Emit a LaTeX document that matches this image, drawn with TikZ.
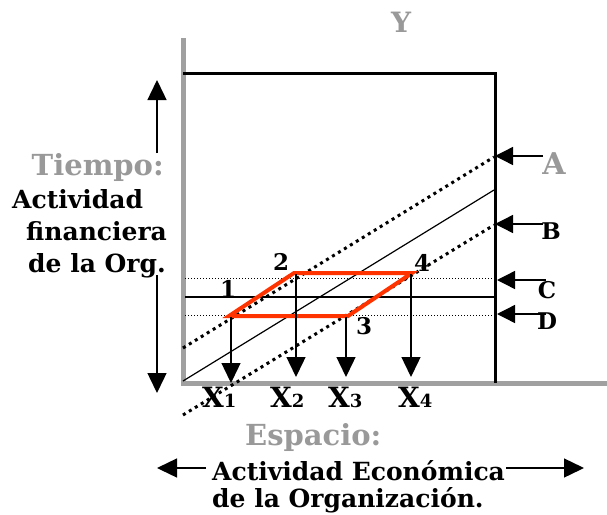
\documentclass[tikz,border=0pt]{standalone}
\usepackage{fontspec}
\setmainfont{DejaVu Serif}
\usetikzlibrary{arrows.meta}
\definecolor{axgray}{HTML}{A0A0A0}
\definecolor{txtgray}{HTML}{999999}
\definecolor{redline}{HTML}{FF3300}
\begin{document}
\begin{tikzpicture}[x=1pt,y=-1pt,
  axisline/.style={draw=axgray, line width=5pt},
  frameline/.style={draw=black, line width=3pt},
  thinline/.style={draw=black, line width=1.2pt},
  bigdots/.style={draw=black, line width=3pt, dash pattern=on 3pt off 4pt},
  finedots/.style={draw=black, line width=0.8pt, dash pattern=on 1pt off 2pt},
  redbox/.style={draw=redline, line width=4pt, line join=miter},
  arr/.style={draw=black, line width=1.4pt, -{Triangle[width=19pt,length=20pt]}},
  sidearr/.style={draw=black, line width=1.4pt, -{Triangle[width=18pt,length=18pt]}},
  blktext/.style={inner sep=0pt, font=\fontsize{25}{28}\selectfont\bfseries},
  graytext/.style={inner sep=0pt, text=txtgray, font=\fontsize{29}{32}\selectfont\bfseries},
  lettertext/.style={inner sep=0pt, font=\fontsize{23}{26}\selectfont\bfseries},
  numtext/.style={inner sep=0pt, font=\fontsize{23}{26}\selectfont\bfseries},
  xtext/.style={inner sep=0pt, font=\fontsize{28}{30}\selectfont\bfseries},
]
\useasboundingbox (0,0) rectangle (607,514);

% axes and frame
\coordinate (gtop) at (183,38);
\coordinate (gbot) at (183,385);
\coordinate (bl) at (181,383);
\coordinate (br) at (607,383);
\draw[axisline] (gtop) -- (gbot);
\draw[axisline] (bl) -- (br);
\coordinate (ftl) at (183,73);
\coordinate (ftr) at (495,73);
\coordinate (fbr) at (495,383);
\draw[frameline, line join=miter] (ftl) -- (ftr) -- (fbr);

% diagonal lines
\coordinate (As) at (183,348);
\coordinate (Ae) at (494,157);
\coordinate (Ms) at (183,381);
\coordinate (Me) at (494,190);
\coordinate (Bs) at (183,415);
\coordinate (Be) at (494,225);
\draw[bigdots] (As) -- (Ae);
\draw[thinline] (Ms) -- (Me);
\draw[bigdots] (Bs) -- (Be);

% horizontal lines
\coordinate (Cs) at (185,278);
\coordinate (Ce) at (494,278);
\coordinate (Hs) at (185,297);
\coordinate (He) at (494,297);
\coordinate (Ds) at (185,315);
\coordinate (De) at (494,315);
\draw[finedots] (Cs) -- (Ce);
\draw[thinline] (Hs) -- (He);
\draw[finedots] (Ds) -- (De);

% red parallelogram
\coordinate (P1) at (229,316);
\coordinate (P2) at (294,273);
\coordinate (P4) at (412,273);
\coordinate (P3) at (348,316);
\draw[redbox] (P1) -- (P2) -- (P4) -- (P3) -- cycle;

% down arrows
\coordinate (d1s) at (231,317);
\coordinate (d1e) at (231,383);
\coordinate (d2s) at (296,274);
\coordinate (d2e) at (296,377);
\coordinate (d3s) at (346,317);
\coordinate (d3e) at (346,377);
\coordinate (d4s) at (411,274);
\coordinate (d4e) at (411,377);
\draw[arr] (d1s) -- (d1e);
\draw[arr] (d2s) -- (d2e);
\draw[arr] (d3s) -- (d3e);
\draw[arr] (d4s) -- (d4e);

% point labels
\node[numtext] (n1) at (228,289) {1};
\node[numtext] (n2) at (281,262) {2};
\node[numtext] (n3) at (364,326) {3};
\node[numtext] (n4) at (422,263) {4};

% X labels
\node[xtext, anchor=base west] (x1) at (202,407) {X{\fontsize{18}{20}\selectfont 1}};
\node[xtext, anchor=base west] (x2) at (270,407) {X{\fontsize{18}{20}\selectfont 2}};
\node[xtext, anchor=base west] (x3) at (328,407) {X{\fontsize{18}{20}\selectfont 3}};
\node[xtext, anchor=base west] (x4) at (398,407) {X{\fontsize{18}{20}\selectfont 4}};

% right side letters and arrows
\node[graytext, font=\fontsize{30}{32}\selectfont\bfseries] (lA) at (554,164) {A};
\node[lettertext] (lB) at (551,231) {B};
\node[lettertext] (lC) at (547,290) {C};
\node[lettertext] (lD) at (547,321) {D};
\coordinate (aAs) at (543,156);
\coordinate (aAe) at (495,156);
\coordinate (aBs) at (543,224);
\coordinate (aBe) at (495,224);
\coordinate (aCs) at (546,280);
\coordinate (aCe) at (497,280);
\coordinate (aDs) at (546,314);
\coordinate (aDe) at (497,314);
\draw[sidearr] (aAs) -- (aAe);
\draw[sidearr] (aBs) -- (aBe);
\draw[sidearr] (aCs) -- (aCe);
\draw[sidearr] (aDs) -- (aDe);

% Y label
\node[graytext, font=\fontsize{28}{30}\selectfont\bfseries] (Y) at (401,22) {Y};

% left texts and arrows
\node[graytext, anchor=base east] (tiempo) at (164,175) {Tiempo:};
\node[blktext, anchor=base west] (act) at (12,208) {Actividad};
\node[blktext, anchor=base west] (fin) at (26,240) {financiera};
\node[blktext, anchor=base west] (dlo) at (28,272) {de la Org.};
\coordinate (upS) at (157,153);
\coordinate (upE) at (157,80);
\coordinate (dnS) at (157,275);
\coordinate (dnE) at (157,393);
\draw[arr] (upS) -- (upE);
\draw[arr] (dnS) -- (dnE);

% bottom texts and arrows
\node[graytext, anchor=base west] (esp) at (245,445) {Espacio:};
\node[blktext, anchor=base west] (aec) at (212,480) {Actividad Económica};
\node[blktext, anchor=base west] (dlorg) at (212,507) {de la Organización.};
\coordinate (lS) at (206,468);
\coordinate (lE) at (157,468);
\coordinate (rS) at (506,468);
\coordinate (rE) at (584,468);
\draw[arr] (lS) -- (lE);
\draw[arr] (rS) -- (rE);
\end{tikzpicture}
\end{document}
